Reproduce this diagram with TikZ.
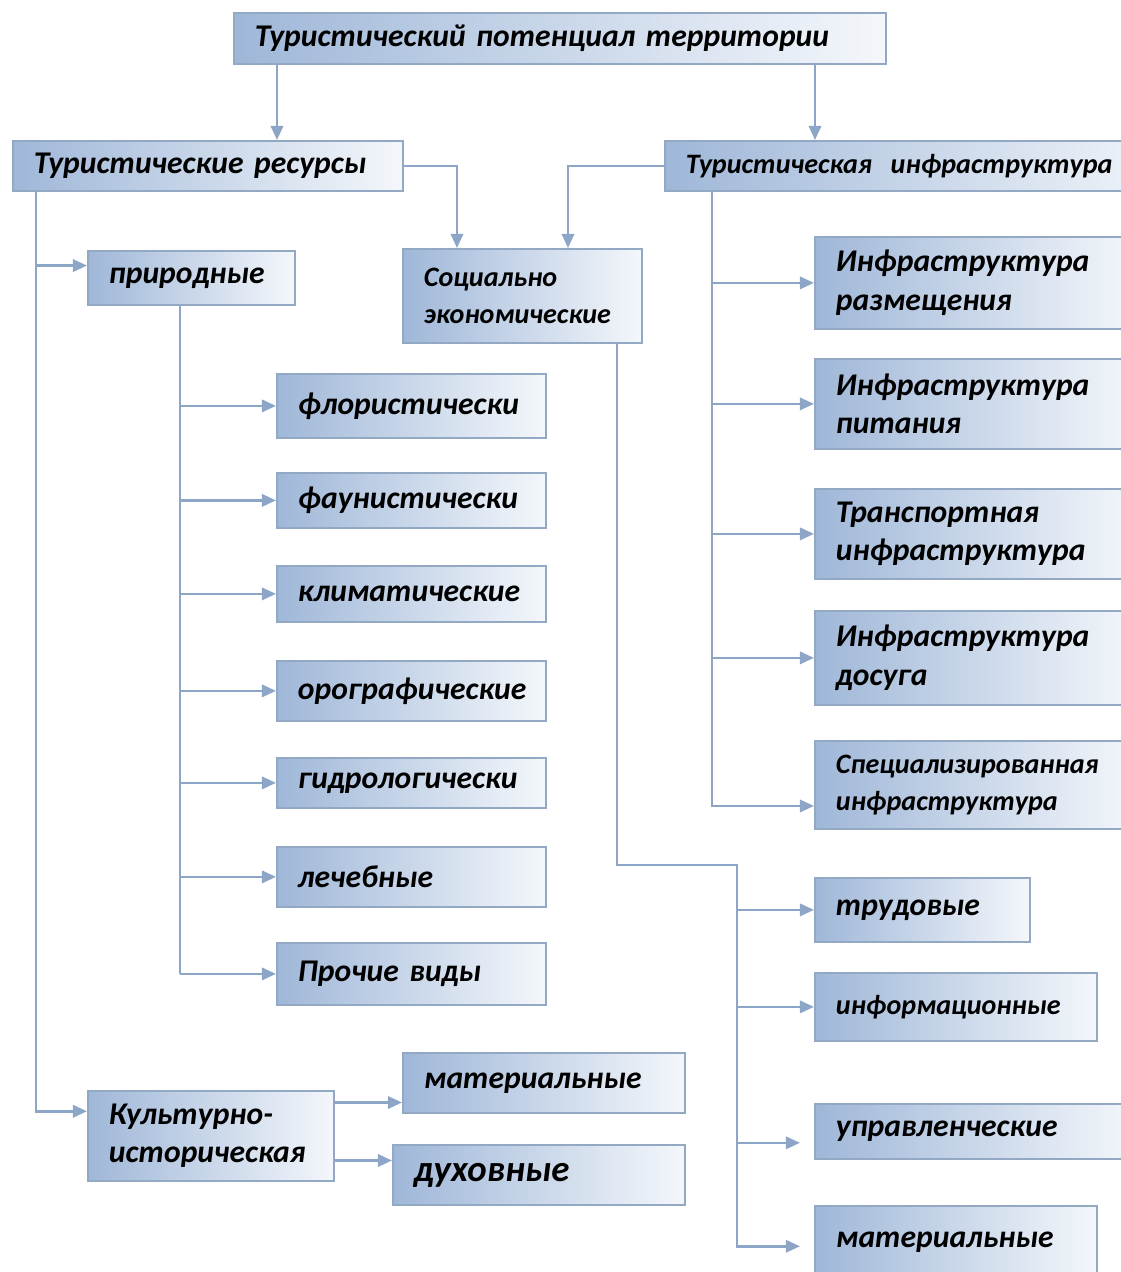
\documentclass[tikz,border=0pt]{standalone}
\usepackage{fontspec}
\setmainfont{Carlito}
\usetikzlibrary{arrows.meta,positioning}

\definecolor{boxdark}{HTML}{9FB7D8}
\definecolor{boxlight}{HTML}{F4F7FB}
\definecolor{boxborder}{HTML}{93A8C3}
\definecolor{edgeline}{HTML}{8DA6C7}

\begin{document}
\begin{tikzpicture}[
  x=0.02cm, y=-0.02cm,
  box/.style 2 args={draw=boxborder, line width=1pt, left color=boxdark, right color=boxlight,
    anchor=north west, minimum width=#1*0.02cm, minimum height=#2*0.02cm,
    text width=#1*0.02cm-24pt, inner xsep=12pt, inner ysep=0pt, align=left,
    font=\bfseries\itshape\fontsize{18}{22}\selectfont},
  smalltxt/.style={font=\bfseries\itshape\fontsize{16}{21}\selectfont},
  bigtxt/.style={font=\bfseries\itshape\fontsize{21}{24}\selectfont},
  line/.style={draw=edgeline, line width=1.4pt},
  arr/.style={line, -{Triangle[length=8pt,width=7pt]}}
]
\useasboundingbox (0,0) rectangle (1121,1272);

% Level 0
\node[box={652}{51}] (top) at (233,12) {Туристический потенциал территории};

% Level 1
\node[box={390}{50}] (res)   at (12,140)  {Туристические ресурсы};
\node[box={520}{50}, smalltxt] (infra) at (664,140) {Туристическая\ \ инфраструктура};
\node[box={239}{94}, smalltxt] (soc) at (402,248) {Социально\\экономические};

% Natural resources
\node[box={207}{54}] (prir)  at (87,250)  {природные};
\node[box={269}{64}] (flor)  at (276,373) {флористически};
\node[box={269}{55}] (faun)  at (276,472) {фаунистически};
\node[box={269}{56}] (klim)  at (276,565) {климатические};
\node[box={269}{60}] (oro)   at (276,660) {орографические};
\node[box={269}{50}] (gidro) at (276,757) {гидрологически};
\node[box={269}{60}] (lech)  at (276,846) {лечебные};
\node[box={269}{62}] (proch) at (276,942) {Прочие виды};

% Cultural resources
\node[box={246}{90}] (kult) at (87,1090)  {Культурно-\\историческая};
\node[box={282}{60}] (mat1) at (402,1052) {материальные};
\node[box={292}{60}, bigtxt] (duh) at (392,1144) {духовные};

% Infrastructure
\node[box={320}{92}] (inf1)  at (814,236) {Инфраструктура\\размещения};
\node[box={320}{90}] (inf2)  at (814,358) {Инфраструктура\\питания};
\node[box={320}{90}] (trans) at (814,488) {Транспортная\\инфраструктура};
\node[box={320}{94}] (dos)   at (814,610) {Инфраструктура\\досуга};
\node[box={320}{88}, smalltxt] (spec) at (814,740) {Специализированная\\инфраструктура};

% Socio-economic
\node[box={215}{64}] (trud)   at (814,877)  {трудовые};
\node[box={282}{68}, smalltxt] (inform) at (814,972) {информационные};
\node[box={320}{55}] (upr)    at (814,1103) {управленческие};
\node[box={282}{72}] (mat2)   at (814,1205) {материальные};

% Trunk positions
\coordinate (c1) at (277,0);
\coordinate (c2) at (815,0);
\coordinate (c3) at (457,0);
\coordinate (c4) at (568,0);
\coordinate (c5) at (36,0);
\coordinate (c6) at (180,0);
\coordinate (c7) at (712,0);
\coordinate (c8) at (617,0);
\coordinate (c9) at (737,865);

% Arrow end points off the box centres
\coordinate (pr) at ([yshift=7pt]prir.west);
\coordinate (ku) at ([yshift=14pt]kult.west);
\coordinate (km) at ([yshift=19pt]kult.east);
\coordinate (kd) at ([yshift=-14pt]kult.east);
\coordinate (sp) at ([yshift=-12pt]spec.west);
\coordinate (up) at ([xshift=-8pt,yshift=-6.5pt]upr.west);
\coordinate (ma) at ([xshift=-8pt,yshift=-2.5pt]mat2.west);

% Edges
\draw[arr] (top.south -| c1) -- (c1 |- res.north);
\draw[arr] (top.south -| c2) -- (c2 |- infra.north);
\draw[arr] (res.east) -| (c3 |- soc.north);
\draw[arr] (infra.west) -| (c4 |- soc.north);

\draw[arr] (res.south -| c5) |- (ku);
\draw[arr] (c5 |- pr) -- (pr);

\draw[line] (prir.south -| c6) -- (c6 |- proch.west);
\foreach \n in {flor,faun,klim,oro,gidro,lech,proch}
  \draw[arr] (c6 |- \n.west) -- (\n.west);

\draw[arr] (km) -- (km -| mat1.west);
\draw[arr] (kd) -- (kd -| duh.west);

\draw[arr] (infra.south -| c7) |- (sp);
\foreach \n in {inf1,inf2,trans,dos}
  \draw[arr] (c7 |- \n.west) -- (\n.west);

\draw[arr] (soc.south -| c8) |- (c9) |- (ma);
\foreach \n in {trud,inform}
  \draw[arr] (c9 |- \n.west) -- (\n.west);
\draw[arr] (c9 |- up) -- (up);

\end{tikzpicture}
\end{document}
